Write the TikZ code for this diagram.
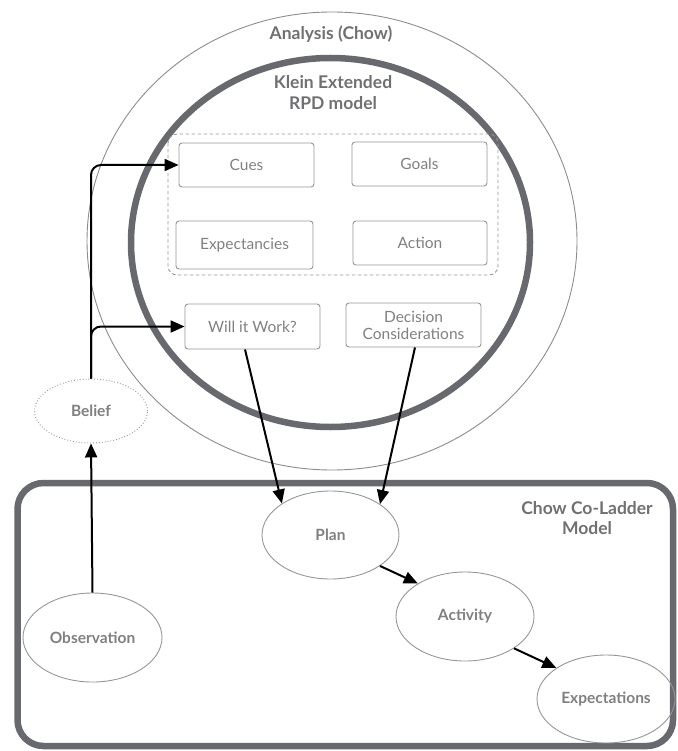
\documentclass[tikz,border=0pt]{standalone}
\usepackage{fontspec}
\setmainfont{Lato}
\usetikzlibrary{shapes.geometric,arrows.meta}
\definecolor{framegray}{RGB}{104,105,110}
\definecolor{titlegray}{RGB}{112,112,115}
\definecolor{textgray}{RGB}{128,128,130}
\definecolor{edgegray}{RGB}{150,150,152}
\definecolor{thingray}{RGB}{140,140,142}
\begin{document}
\begin{tikzpicture}[x=1pt,y=-1pt,
  title/.style={text=titlegray,font=\bfseries\fontsize{17.5}{21}\selectfont,align=center},
  rpdbox/.style={draw=edgegray,line width=0.9pt,rounded corners=3pt,text=textgray,
    font=\fontsize{15.5}{18}\selectfont,align=center,inner sep=0pt},
  ladder/.style={ellipse,draw=edgegray,line width=0.9pt,inner sep=0pt,text=textgray,
    font=\bfseries\fontsize{15.5}{18}\selectfont},
  flow/.style={line width=2pt,-{Triangle[length=14pt,width=12pt]}},
]
\useasboundingbox (0,0) rectangle (677,751);

% Analysis (Chow) outer ring and the Klein RPD ring
\draw[thingray,line width=0.9pt] (332,241) ellipse [x radius=245,y radius=229];
\draw[framegray,line width=6.5pt] (330.5,242.5) ellipse [x radius=199.5,y radius=184.5];

% Chow Co-Ladder frame
\draw[framegray,line width=6.5pt,rounded corners=26pt] (17.5,483) rectangle (673,746);

\node[title] (analysis) at (331,34) {Analysis (Chow)};
\node[title] (klein) at (333,93) {Klein Extended\\RPD model};
\node[title,font=\bfseries\fontsize{17.5}{20}\selectfont] (coladder) at (587,518) {Chow Co-Ladder\\Model};

% RPD elements
\draw[edgegray,line width=0.9pt,dashed,dash pattern=on 3.5pt off 2.5pt,rounded corners=9pt]
  (168,134) rectangle (498,275);
\node[rpdbox,minimum width=135pt,minimum height=44pt] (cues) at (246.5,165) {Cues};
\node[rpdbox,minimum width=135pt,minimum height=44pt] (goals) at (419.5,164) {Goals};
\node[rpdbox,minimum width=137pt,minimum height=48pt] (expect) at (244.5,245) {Expectancies};
\node[rpdbox,minimum width=134pt,minimum height=44pt] (action) at (420,243) {Action};
\node[rpdbox,minimum width=135pt,minimum height=45pt] (work) at (252.5,326.5) {Will it Work?};
\node[rpdbox,minimum width=135pt,minimum height=44pt,font=\fontsize{15.5}{17}\selectfont]
  (decision) at (413.5,325) {Decision\\Considerations};

% Co-ladder steps
\node[ellipse,draw=edgegray,line width=0.9pt,dotted,inner sep=0pt,text=textgray,
  font=\bfseries\fontsize{15.5}{18}\selectfont,minimum width=113pt,minimum height=64pt]
  (belief) at (91,411) {Belief};
\node[ladder,minimum width=139pt,minimum height=89pt] (obs) at (92.5,637.5) {Observation};
\node[ladder,minimum width=137pt,minimum height=88pt] (plan) at (330.5,535) {Plan};
\node[ladder,minimum width=138pt,minimum height=89pt] (activity) at (465,616.5) {Activity};
\node[ladder,minimum width=138pt,minimum height=88pt] (expectations) at (606,699) {Expectations};

% Connectors
\draw[flow] (obs.north) -- (belief.south);
\draw[flow,rounded corners=10pt] (belief.north) |- (cues.west);
\draw[flow,rounded corners=10pt] (belief.north) |- (work.west);
\draw[flow] (work.south -| 245,0) -- (plan.147);
\draw[flow] (decision.south -| 415,0) -- (plan.32);
\draw[flow] (plan.-32) -- (activity.145);
\draw[flow] (activity.-33) -- (expectations.148);
\end{tikzpicture}
\end{document}
